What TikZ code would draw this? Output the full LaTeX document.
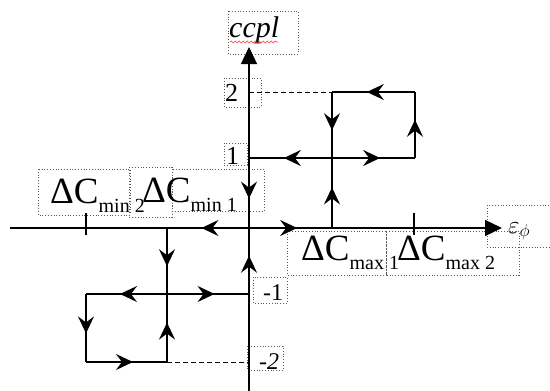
\documentclass[tikz,border=0pt]{standalone}
\usepackage{fontspec}
\setmainfont{Liberation Serif}
\usetikzlibrary{arrows.meta,decorations.markings,decorations.pathmorphing}

\newcommand{\dCsub}[1]{{\fontsize{37}{37}\selectfont ΔC}\raisebox{-9pt}{\fontsize{20}{20}\selectfont #1}}

\tikzset{
  loopline/.style={line width=1.7pt},
  axisline/.style={line width=1.3pt},
  midarrow/.style={postaction={decorate},decoration={markings,
      mark=at position #1 with {\arrow{Stealth[length=17pt,width=16pt,inset=6pt]}}}},
  midarrow/.default=0.58,
  frame/.style={draw=black!65,dotted,line width=0.8pt},
  guide/.style={line width=0.9pt,dash pattern=on 5pt off 3pt},
  lab/.style={anchor=base west,inner sep=0pt,font=\fontsize{26}{26}\selectfont}
}

\begin{document}
\begin{tikzpicture}[x=1pt,y=-1pt]
  \useasboundingbox (0,0) rectangle (550,391);

  % text box frames
  \draw[frame] (228,11) rectangle (298,54);
  \draw[frame] (224,78) rectangle (261,107);
  \draw[frame] (224,143) rectangle (247,165);
  \draw[frame] (38,169) rectangle (130,215);
  \draw[frame] (129,167) rectangle (172,217);
  \draw[frame] (172,169) rectangle (264,211);
  \draw[frame] (287,231) rectangle (386,275);
  \draw[frame] (386,231) rectangle (519,275);
  \draw[frame] (487,205) rectangle (560,247);
  \draw[frame] (253,277) rectangle (287,303);
  \draw[frame] (247,346) rectangle (283,370);

  % points
  \coordinate (o)  at (249,228);
  \coordinate (a1) at (249,158);
  \coordinate (a2) at (249,92);
  \coordinate (b1) at (249,294);
  \coordinate (b2) at (249,362);
  \coordinate (p)  at (332,228);
  \coordinate (q)  at (332,158);
  \coordinate (r)  at (415,158);
  \coordinate (s)  at (415,92);
  \coordinate (t)  at (332,92);
  \coordinate (pp) at (167,228);
  \coordinate (qq) at (167,294);
  \coordinate (rr) at (86,294);
  \coordinate (ss) at (86,362);
  \coordinate (tt) at (167,362);

  % axes
  \coordinate (xl) at (10,228);
  \coordinate (xr) at (502,228);
  \coordinate (yb) at (249,391);
  \coordinate (yt) at (249,47);
  \draw[axisline,-{Triangle[length=17pt,width=16pt]}] (xl) -- (xr);
  \draw[axisline,-{Triangle[length=17pt,width=16pt]}] (yb) -- (yt);

  % ticks
  \draw[axisline] (86,213) -- (86,235);
  \draw[axisline] (414,213) -- (414,235);

  % dashed guides
  \draw[guide] (a2) -- (t);
  \draw[guide] (tt) -- (b2);

  % upper loop
  \draw[loopline,midarrow] (a1) -- (o);
  \draw[loopline,midarrow] (o) -- (p);
  \draw[loopline,midarrow] (p) -- (q);
  \draw[loopline,midarrow] (q) -- (r);
  \draw[loopline,midarrow] (r) -- (s);
  \draw[loopline,midarrow] (s) -- (t);
  \draw[loopline,midarrow] (t) -- (q);
  \draw[loopline,midarrow] (q) -- (a1);

  % lower loop
  \draw[loopline,midarrow] (o) -- (pp);
  \draw[loopline,midarrow] (pp) -- (qq);
  \draw[loopline,midarrow] (qq) -- (rr);
  \draw[loopline,midarrow] (rr) -- (ss);
  \draw[loopline,midarrow] (ss) -- (tt);
  \draw[loopline,midarrow] (tt) -- (qq);
  \draw[loopline,midarrow] (qq) -- (b1);
  \draw[loopline,midarrow] (b1) -- (o);

  % labels
  \node[lab,font=\itshape\fontsize{30}{30}\selectfont] (ylab) at (229,37) {ccpl};
  \draw[red!80,line width=0.6pt,decorate,decoration={snake,amplitude=0.9pt,segment length=4pt}]
    (230,42) -- (278,42);
  \node[lab] (l2) at (225,101) {2};
  \node[lab] (l1) at (226,164) {1};
  \node[lab,font=\fontsize{24}{24}\selectfont] (lm1) at (263,300) {-1};
  \node[lab,font=\itshape\fontsize{24}{24}\selectfont] (lm2) at (259,369) {-2};
  \node[lab] (dmin2) at (50,203) {\dCsub{min 2}};
  \node[lab] (dmin1) at (142,202) {\dCsub{min 1}};
  \node[lab] (dmax1) at (301,260) {\dCsub{max 1}};
  \node[lab] (dmax2) at (397,260) {\dCsub{max 2}};
  \node[lab,font=\fontsize{26}{26}\selectfont] (xlab) at (508,233) {$\varepsilon_{\phi}$};
\end{tikzpicture}
\end{document}
